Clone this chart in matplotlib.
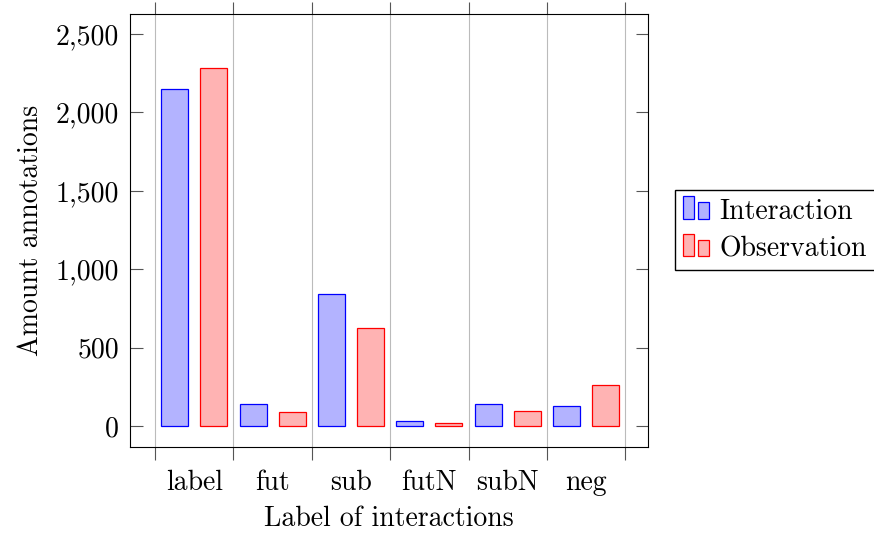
import numpy as np
import matplotlib.pyplot as plt
from matplotlib.patches import Rectangle
from matplotlib.legend_handler import HandlerBase
from matplotlib.ticker import FuncFormatter

categories = ["label", "fut", "sub", "futN", "subN", "neg"]
interaction = [2150, 140, 842, 30, 140, 128]
observation = [2285, 87, 625, 17, 96, 260]

plt.rcParams['font.family'] = ['cmr10', 'DejaVu Serif']
plt.rcParams['axes.formatter.use_mathtext'] = True
plt.rcParams['font.size'] = 20


class TwoBarHandler(HandlerBase):
    # pgfplots-style legend image: two small bars side by side
    def create_artists(self, legend, orig_handle, xdescent, ydescent,
                       width, height, fontsize, trans):
        fc = orig_handle.get_facecolor()
        ec = orig_handle.get_edgecolor()
        w = width * 0.38
        r1 = Rectangle((-xdescent, -ydescent), w, height * 1.15,
                       facecolor=fc, edgecolor=ec, lw=0.9, transform=trans)
        r2 = Rectangle((-xdescent + width * 0.55, -ydescent), w, height * 0.85,
                       facecolor=fc, edgecolor=ec, lw=0.9, transform=trans)
        return [r1, r2]


fig = plt.figure(figsize=(8.74, 5.33), dpi=100)
ax = fig.add_axes([0.1487, 0.1614, 0.7414 - 0.1487, 0.9737 - 0.1614])

x = np.arange(len(categories))
off = 0.249
bw = 0.345
b1 = ax.bar(x - off, interaction, bw, facecolor=(0.7, 0.7, 1.0), edgecolor='blue',
            lw=0.9, label='Interaction', zorder=3)
b2 = ax.bar(x + off, observation, bw, facecolor=(1.0, 0.7, 0.7), edgecolor='red',
            lw=0.9, label='Observation', zorder=3)

ax.set_xlim(-0.82, 5.79)
ax.set_ylim(-134, 2628)

bounds = np.arange(-0.5, len(categories), 1.0)
ax.set_xticks(bounds)
ax.set_xticklabels([])
ax.set_xticks(x, minor=True)
ax.set_xticklabels(categories, minor=True)
ax.tick_params(axis='x', which='major', direction='out', length=9, width=0.8,
               top=True, color='#555555')
ax.tick_params(axis='x', which='minor', length=0, pad=16)
ax.xaxis.grid(True, which='major', color='#bbbbbb', lw=0.8, zorder=0)

ax.set_yticks([0, 500, 1000, 1500, 2000, 2500])
ax.yaxis.set_major_formatter(FuncFormatter(lambda v, p: f"{int(v):,}"))
ax.tick_params(axis='y', direction='in', length=9, width=0.8, right=True,
               color='#555555', pad=8)

for s in ax.spines.values():
    s.set_linewidth(0.8)

ax.set_xlabel("Label of interactions", labelpad=7)
ax.set_ylabel("Amount annotations", labelpad=8)

fig.legend(handles=[b1.patches[0], b2.patches[0]],
           labels=['Interaction', 'Observation'],
           loc='upper left', bbox_to_anchor=(0.772, 0.6435),
           bbox_transform=fig.transFigure, borderaxespad=0,
           fancybox=False, edgecolor='black', framealpha=1,
           handler_map={Rectangle: TwoBarHandler()},
           handlelength=1.0, handletextpad=0.3, labelspacing=0.4,
           borderpad=0.3)

fig.savefig('out.png', dpi=100)
